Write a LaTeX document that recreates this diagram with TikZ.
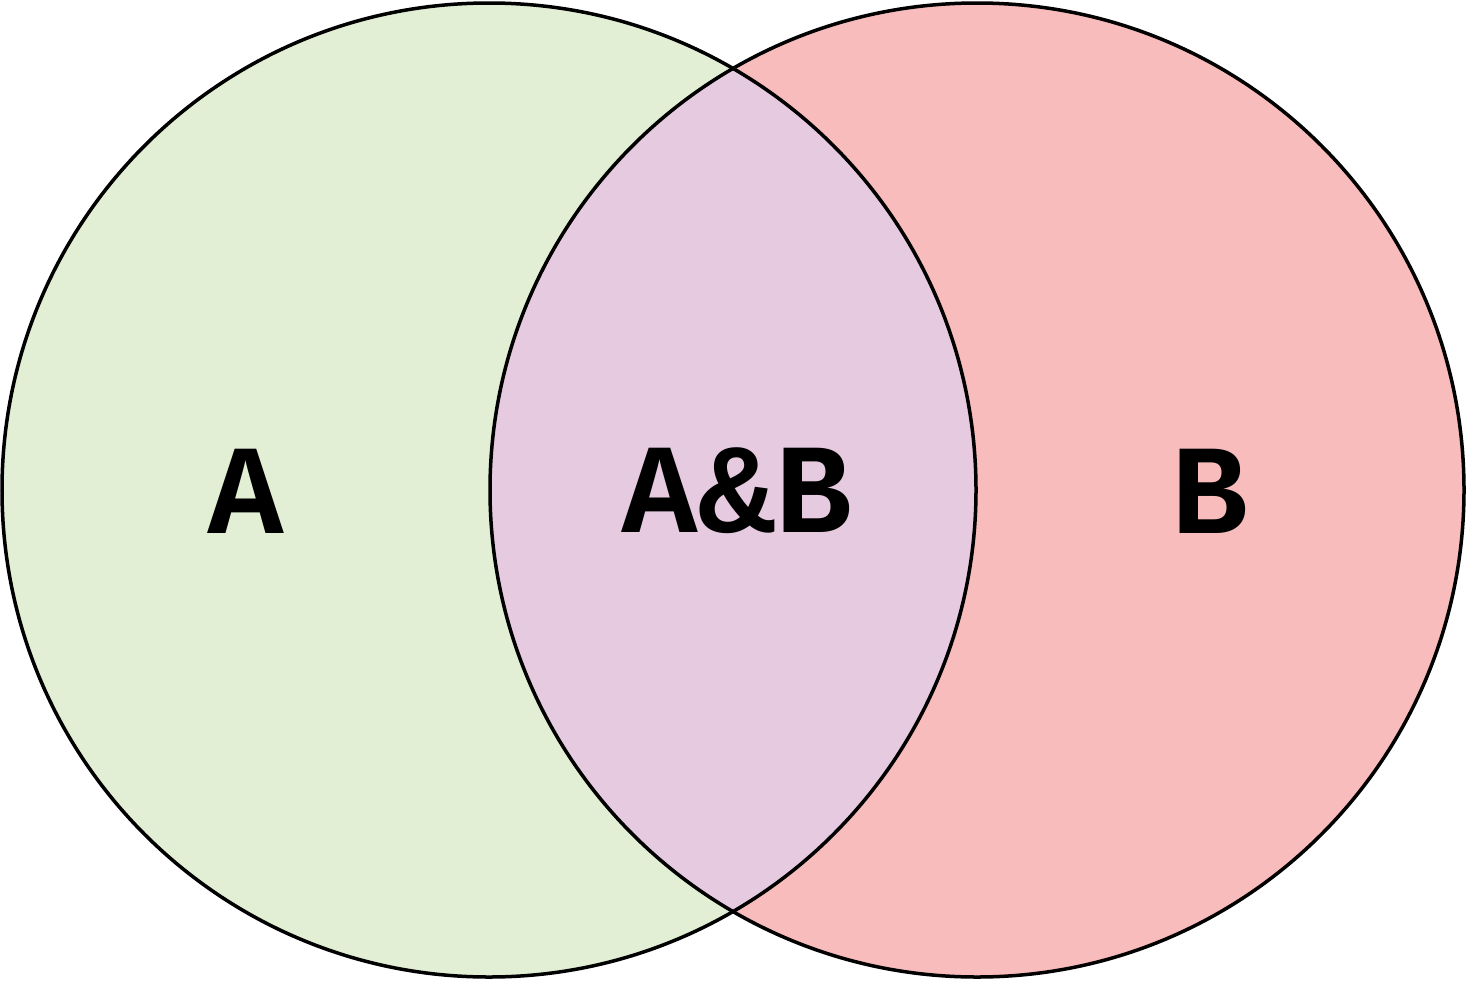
\documentclass[tikz,border=0pt]{standalone}
\usepackage{fontspec}
\newfontfamily\labelfont{Liberation Mono}
\definecolor{setA}{HTML}{E2EFD5}
\definecolor{setB}{HTML}{F8BCBC}
\definecolor{setAB}{HTML}{E6CAE0}
\tikzset{
  circleline/.style={draw=black, line width=3.5pt},
  setlabel/.style={font=\labelfont\bfseries\fontsize{128}{128}\selectfont, text=black, inner sep=0pt}
}
\begin{document}
\begin{tikzpicture}[x=1pt,y=-1pt]
\useasboundingbox (0,0) rectangle (1467,980);
\fill[setA] (489,490) circle (487);
\fill[setB] (977,490) circle (487);
\begin{scope}
  \clip (489,490) circle (487);
  \fill[setAB] (977,490) circle (487);
\end{scope}
\draw[circleline] (489,490) circle (487);
\draw[circleline] (977,490) circle (487);
\node[setlabel] (a) at (246,491) {A};
\node[setlabel] (ab) at (737,491) {A\&B};
\node[setlabel] (b) at (1210,491) {B};
\end{tikzpicture}
\end{document}
